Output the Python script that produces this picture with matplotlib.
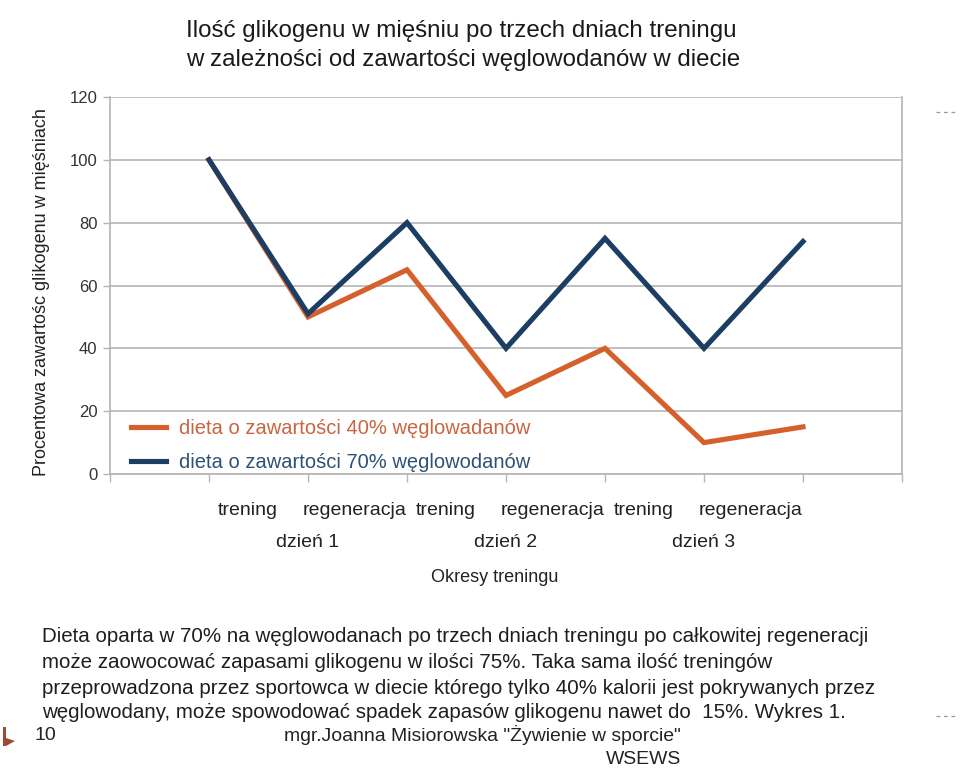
import matplotlib
matplotlib.use("Agg")
import matplotlib.pyplot as plt
from matplotlib import font_manager
from matplotlib.patches import Polygon
from matplotlib.lines import Line2D

# ---------------- data ----------------
title_lines = ["Ilość glikogenu w mięśniu po trzech dniach treningu",
               "w zależności od zawartości węglowodanów w diecie"]
phase_labels = ["trening", "regeneracja", "trening", "regeneracja", "trening", "regeneracja"]
day_labels = ["dzień 1", "dzień 2", "dzień 3"]
points = [0, 1, 2, 3, 4, 5, 6]
diet40 = [100, 50, 65, 25, 40, 10, 15]
diet70 = [100, 51, 80, 40, 75, 40, 74]
series_names = ["dieta o zawartości 40% węglowadanów",
                "dieta o zawartości 70% węglowodanów"]
y_ticks = [0, 20, 40, 60, 80, 100, 120]
ylabel = "Procentowa zawartośc glikogenu w mięśniach"
xlabel = "Okresy treningu"
paragraph = ["Dieta oparta w 70% na węglowodanach po trzech dniach treningu po całkowitej regeneracji",
             "może zaowocować zapasami glikogenu w ilości 75%. Taka sama ilość treningów",
             "przeprowadzona przez sportowca w diecie którego tylko 40% kalorii jest pokrywanych przez",
             "węglowodany, może spowodować spadek zapasów glikogenu nawet do  15%. Wykres 1."]
footer_num = "10"
footer_author = "mgr.Joanna Misiorowska \"Żywienie w sporcie\""
footer_inst = "WSEWS"

# ---------------- fonts ----------------
avail = {f.name for f in font_manager.fontManager.ttflist}
NARROW = "Liberation Sans Narrow" if "Liberation Sans Narrow" in avail else "Liberation Sans"
plt.rcParams['font.family'] = ['Liberation Sans', 'DejaVu Sans']

W, H = 960, 771
fig = plt.figure(figsize=(W / 100, H / 100), dpi=100)
fig.patch.set_facecolor("white")

def fx(px):
    return px / W

def fy(py):
    return 1 - py / H

ax_l, ax_r, ax_t, ax_b = 110, 902, 97, 474
ax = fig.add_axes([fx(ax_l), fy(ax_b), fx(ax_r - ax_l), (ax_b - ax_t) / H])

ORANGE = "#D5602C"
BLUE = "#1B3E62"
GRID = "#B5B5B5"

ax.plot(points, diet40, color=ORANGE, lw=3.7, solid_joinstyle="miter", zorder=3)
ax.plot(points, diet70, color=BLUE, lw=3.7, solid_joinstyle="miter", zorder=4)

ax.set_xlim(-1, 7)
ax.set_ylim(0, 120)
ax.set_yticks(y_ticks)
ax.set_yticklabels([str(v) for v in y_ticks], fontsize=12, color="#333333")
ax.yaxis.grid(True, color=GRID, lw=1.2)
ax.set_axisbelow(True)
ax.tick_params(axis="y", length=5, width=1, color=GRID, pad=4)
ax.set_xticks(range(-1, 8))
ax.set_xticklabels([])
ax.tick_params(axis="x", length=6, width=1, color=GRID)
for s in ["left", "bottom", "right"]:
    ax.spines[s].set_color(GRID)
    ax.spines[s].set_linewidth(1.2)
ax.spines["top"].set_visible(False)

# phase labels between tick marks
offsets = {"trening": -0.11, "regeneracja": -0.03}
for i, lab in enumerate(phase_labels):
    ax.text(i + 0.5 + offsets[lab], -0.098, lab, transform=ax.get_xaxis_transform(),
            ha="center", va="center", fontsize=14, color="#222222")
for i, lab in enumerate(day_labels):
    ax.text(1 + 2 * i, -0.182, lab, transform=ax.get_xaxis_transform(),
            ha="center", va="center", fontsize=14, color="#222222")

fig.text(fx(495), fy(578), xlabel, ha="center", va="center", fontsize=13,
         family=[NARROW, "DejaVu Sans"], color="#222222")
fig.text(fx(42), fy(292), ylabel, ha="center", va="center", rotation=90,
         fontsize=13, family=[NARROW, "DejaVu Sans"], color="#222222")

# legend
handles = [Line2D([], [], color=ORANGE, lw=3.7), Line2D([], [], color=BLUE, lw=3.7)]
leg = ax.legend(handles, series_names, loc="lower left",
                bbox_to_anchor=((123 - ax_l) / (ax_r - ax_l), -0.016),
                frameon=False, fontsize=14.5, handlelength=1.75, handletextpad=0.62,
                labelspacing=0.72, borderaxespad=0.0)
leg.get_texts()[0].set_color("#C9653F")
leg.get_texts()[1].set_color("#2D5275")

# title and paragraph (fit to measured widths)
fig.canvas.draw()
renderer = fig.canvas.get_renderer()

def fit(t, target):
    for _ in range(3):
        w = t.get_window_extent(renderer).width
        t.set_fontsize(t.get_fontsize() * target / w)
    return t.get_fontsize()

t1 = fig.text(fx(461.5), fy(31), title_lines[0], ha="center", va="center",
              fontsize=18, family=[NARROW, "DejaVu Sans"], color="#1a1a1a")
fs_title = fit(t1, 551)
t2 = fig.text(fx(463.5), fy(60), title_lines[1], ha="center", va="center",
              fontsize=fs_title, family=[NARROW, "DejaVu Sans"], color="#1a1a1a")
fit(t2, 553)

para_y = [637, 662, 688, 713]
tp = fig.text(fx(42), fy(para_y[0]), paragraph[0], ha="left", va="center", fontsize=15,
              family=[NARROW, "DejaVu Sans"], color="#1e1e1e")
fs_para = fit(tp, 826)
for line, y in zip(paragraph[1:], para_y[1:]):
    fig.text(fx(42), fy(y), line, ha="left", va="center", fontsize=fs_para,
             family=[NARROW, "DejaVu Sans"], color="#1e1e1e")

fig.text(fx(35), fy(735), footer_num, ha="left", va="center", fontsize=14,
         family=[NARROW, "DejaVu Sans"], color="#222222")
ta = fig.text(fx(482), fy(735), footer_author, ha="center", va="center", fontsize=13,
              family=[NARROW, "DejaVu Sans"], color="#222222")
fs_foot = fit(ta, 395)
fig.text(fx(644), fy(760), footer_inst, ha="center", va="center", fontsize=fs_foot,
         family=[NARROW, "DejaVu Sans"], color="#222222")

# decorative slide marks
arrow = [(3, 727), (6, 727), (6, 738), (15, 741), (6, 746), (3, 746)]
fig.patches.append(Polygon([(fx(x), fy(y)) for x, y in arrow], closed=True,
                           transform=fig.transFigure, color="#9E4B35", lw=0))
for y in (112, 716):
    fig.add_artist(Line2D([fx(936), fx(956)], [fy(y), fy(y)], transform=fig.transFigure,
                          color="#999999", lw=0.9, ls=(0, (3, 3))))

fig.savefig("out.png", dpi=100, facecolor="white")
